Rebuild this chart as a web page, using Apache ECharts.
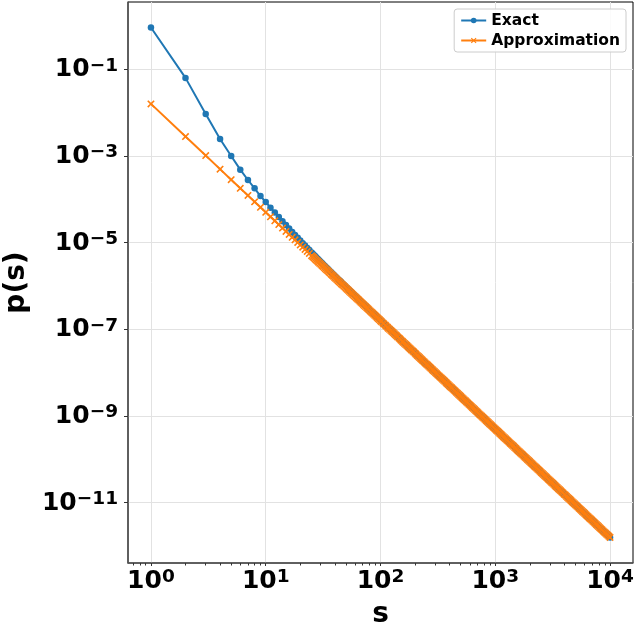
<!DOCTYPE html>
<html>
<head>
<meta charset="utf-8">
<style>
  html, body { margin: 0; padding: 0; background: #fff; }
  #chart { width: 636px; height: 629px; }
</style>
<script src="https://cdn.jsdelivr.net/npm/echarts@6/dist/echarts.min.js"></script>
</head>
<body>
<div id="chart"></div>
<script>
// ---- data ----
// cluster size s (integers up to 24, then sampled densely along the log axis)
const sValues = [
  1, 2, 3, 4, 5, 6, 7, 8, 9, 10, 11, 12, 13, 14, 15, 16, 17, 18, 19, 20, 21, 22, 23, 24,
  25.1, 25.7, 26.3, 26.9, 27.5, 28.2, 28.8, 29.5, 30.2, 30.9, 31.6, 32.4, 33.1, 33.9, 34.7,
  35.5, 36.3, 37.2, 38.0, 38.9, 39.8, 40.7, 41.7, 42.7, 43.7, 44.7, 45.7, 46.8, 47.9, 49.0,
  50.1, 51.3, 52.5, 53.7, 55.0, 56.2, 57.5, 58.9, 60.3, 61.7, 63.1, 64.6, 66.1, 67.6, 69.2,
  70.8, 72.4, 74.1, 75.9, 77.6, 79.4, 81.3, 83.2, 85.1, 87.1, 89.1, 91.2, 93.3, 95.5, 97.7,
  100, 102, 105, 107, 110, 112, 115, 117, 120, 123, 126, 129, 132, 135, 138, 141, 145, 148,
  151, 155, 158, 162, 166, 170, 174, 178, 182, 186, 191, 195, 200, 204, 209, 214, 219, 224,
  229, 234, 240, 245, 251, 257, 263, 269, 275, 282, 288, 295, 302, 309, 316, 324, 331, 339,
  347, 355, 363, 372, 380, 389, 398, 407, 417, 427, 437, 447, 457, 468, 479, 490, 501, 513,
  525, 537, 550, 562, 575, 589, 603, 617, 631, 646, 661, 676, 692, 708, 724, 741, 759, 776,
  794, 813, 832, 851, 871, 891, 912, 933, 955, 977,
  1000, 1023, 1047, 1072, 1096, 1122, 1148, 1175, 1202, 1230, 1259, 1288, 1318, 1349, 1380,
  1413, 1445, 1479, 1514, 1549, 1585, 1622, 1660, 1698, 1738, 1778, 1820, 1862, 1905, 1950,
  1995, 2042, 2089, 2138, 2188, 2239, 2291, 2344, 2399, 2455, 2512, 2570, 2630, 2692, 2754,
  2818, 2884, 2951, 3020, 3090, 3162, 3236, 3311, 3388, 3467, 3548, 3631, 3715, 3802, 3890,
  3981, 4074, 4169, 4266, 4365, 4467, 4571, 4677, 4786, 4898, 5012, 5129, 5248, 5370, 5495,
  5623, 5754, 5888, 6026, 6166, 6310, 6457, 6607, 6761, 6918, 7079, 7244, 7413, 7586, 7762,
  7943, 8128, 8318, 8511, 8710, 8913, 9120, 9333, 9550, 9772, 10000
];

// Exact p(s) up to s ~ 158 (where it separates from the approximation)
const exactHead = [
  0.92, 0.0633, 0.0093, 2.47e-3, 1.00e-3, 4.83e-4, 2.79e-4, 1.79e-4, 1.19e-4, 8.67e-5,
  6.40e-5, 4.98e-5, 3.90e-5, 3.11e-5, 2.54e-5, 2.11e-5, 1.77e-5, 1.50e-5, 1.29e-5, 1.12e-5,
  9.73e-6, 8.55e-6, 7.56e-6, 6.73e-6,
  5.92e-6, 5.56e-6, 5.22e-6, 4.90e-6, 4.61e-6, 4.33e-6, 4.07e-6, 3.83e-6, 3.60e-6, 3.38e-6,
  3.18e-6, 2.99e-6, 2.81e-6, 2.64e-6, 2.49e-6, 2.34e-6, 2.20e-6, 2.07e-6, 1.95e-6, 1.84e-6,
  1.73e-6, 1.63e-6, 1.53e-6, 1.44e-6, 1.36e-6, 1.28e-6, 1.20e-6, 1.13e-6, 1.07e-6, 1.01e-6,
  9.49e-7, 8.94e-7, 8.42e-7, 7.93e-7, 7.48e-7, 7.04e-7, 6.64e-7, 6.26e-7, 5.90e-7, 5.56e-7,
  5.24e-7, 4.94e-7, 4.66e-7, 4.39e-7, 4.14e-7, 3.90e-7, 3.68e-7, 3.47e-7, 3.27e-7, 3.08e-7,
  2.91e-7, 2.74e-7, 2.59e-7, 2.44e-7, 2.30e-7, 2.17e-7, 2.05e-7, 1.93e-7, 1.82e-7, 1.72e-7,
  1.62e-7, 1.53e-7, 1.44e-7, 1.36e-7, 1.28e-7, 1.21e-7, 1.14e-7, 1.08e-7, 1.02e-7,
  9.60e-8, 9.06e-8, 8.55e-8, 8.06e-8, 7.61e-8, 7.18e-8, 6.77e-8, 6.39e-8, 6.03e-8, 5.69e-8,
  5.37e-8, 5.07e-8
];

// Approximation p(s) over the same range
const approxHead = [
  1.59e-2, 2.81e-3, 1.02e-3, 4.97e-4, 2.84e-4, 1.80e-4, 1.23e-4, 8.78e-5, 6.54e-5, 5.03e-5,
  3.96e-5, 3.19e-5, 2.61e-5, 2.17e-5, 1.82e-5, 1.55e-5, 1.33e-5, 1.16e-5, 1.01e-5, 8.89e-6,
  7.87e-6, 7.00e-6, 6.27e-6, 5.63e-6,
  5.01e-6, 4.73e-6, 4.47e-6, 4.22e-6, 3.98e-6, 3.76e-6, 3.55e-6, 3.35e-6, 3.16e-6, 2.99e-6,
  2.82e-6, 2.66e-6, 2.51e-6, 2.37e-6, 2.24e-6, 2.11e-6, 2.00e-6, 1.88e-6, 1.78e-6, 1.68e-6,
  1.58e-6, 1.50e-6, 1.41e-6, 1.33e-6, 1.26e-6, 1.19e-6, 1.12e-6, 1.06e-6, 1.00e-6, 9.44e-7,
  8.91e-7, 8.41e-7, 7.94e-7, 7.50e-7, 7.08e-7, 6.68e-7, 6.31e-7, 5.96e-7, 5.62e-7, 5.31e-7,
  5.01e-7, 4.73e-7, 4.47e-7, 4.22e-7, 3.98e-7, 3.76e-7, 3.55e-7, 3.35e-7, 3.16e-7, 2.99e-7,
  2.82e-7, 2.66e-7, 2.51e-7, 2.37e-7, 2.24e-7, 2.11e-7, 2.00e-7, 1.88e-7, 1.78e-7, 1.68e-7,
  1.58e-7, 1.50e-7, 1.41e-7, 1.33e-7, 1.26e-7, 1.19e-7, 1.12e-7, 1.06e-7, 1.00e-7,
  9.44e-8, 8.91e-8, 8.41e-8, 7.94e-8, 7.50e-8, 7.08e-8, 6.68e-8, 6.31e-8, 5.96e-8, 5.62e-8,
  5.31e-8, 5.01e-8
];

// Beyond s ~ 160 both curves lie on the same line (within reading precision)
const sharedTail = [
  4.73e-8, 4.47e-8, 4.22e-8, 3.98e-8, 3.76e-8, 3.55e-8, 3.35e-8, 3.16e-8, 2.99e-8, 2.82e-8,
  2.66e-8, 2.51e-8, 2.37e-8, 2.24e-8, 2.11e-8, 2.00e-8, 1.88e-8, 1.78e-8, 1.68e-8, 1.58e-8,
  1.50e-8, 1.41e-8, 1.33e-8, 1.26e-8, 1.19e-8, 1.12e-8, 1.06e-8, 1.00e-8,
  9.44e-9, 8.91e-9, 8.41e-9, 7.94e-9, 7.50e-9, 7.08e-9, 6.68e-9, 6.31e-9, 5.96e-9, 5.62e-9,
  5.31e-9, 5.01e-9, 4.73e-9, 4.47e-9, 4.22e-9, 3.98e-9, 3.76e-9, 3.55e-9, 3.35e-9, 3.16e-9,
  2.99e-9, 2.82e-9, 2.66e-9, 2.51e-9, 2.37e-9, 2.24e-9, 2.11e-9, 2.00e-9, 1.88e-9, 1.78e-9,
  1.68e-9, 1.58e-9, 1.50e-9, 1.41e-9, 1.33e-9, 1.26e-9, 1.19e-9, 1.12e-9, 1.06e-9, 1.00e-9,
  9.44e-10, 8.91e-10, 8.41e-10, 7.94e-10, 7.50e-10, 7.08e-10, 6.68e-10, 6.31e-10, 5.96e-10, 5.62e-10,
  5.31e-10, 5.01e-10, 4.73e-10, 4.47e-10, 4.22e-10, 3.98e-10, 3.76e-10, 3.55e-10, 3.35e-10, 3.16e-10,
  2.99e-10, 2.82e-10, 2.66e-10, 2.51e-10, 2.37e-10, 2.24e-10, 2.11e-10, 2.00e-10, 1.88e-10, 1.78e-10,
  1.68e-10, 1.58e-10, 1.50e-10, 1.41e-10, 1.33e-10, 1.26e-10, 1.19e-10, 1.12e-10, 1.06e-10, 1.00e-10,
  9.44e-11, 8.91e-11, 8.41e-11, 7.94e-11, 7.50e-11, 7.08e-11, 6.68e-11, 6.31e-11, 5.96e-11, 5.62e-11,
  5.31e-11, 5.01e-11, 4.73e-11, 4.47e-11, 4.22e-11, 3.98e-11, 3.76e-11, 3.55e-11, 3.35e-11, 3.16e-11,
  2.99e-11, 2.82e-11, 2.66e-11, 2.51e-11, 2.37e-11, 2.24e-11, 2.11e-11, 2.00e-11, 1.88e-11, 1.78e-11,
  1.68e-11, 1.58e-11, 1.50e-11, 1.41e-11, 1.33e-11, 1.26e-11, 1.19e-11, 1.12e-11, 1.06e-11, 1.00e-11,
  9.44e-12, 8.91e-12, 8.41e-12, 7.94e-12, 7.50e-12, 7.08e-12, 6.68e-12, 6.31e-12, 5.96e-12, 5.62e-12,
  5.31e-12, 5.01e-12, 4.73e-12, 4.47e-12, 4.22e-12, 3.98e-12, 3.76e-12, 3.55e-12, 3.35e-12, 3.16e-12,
  2.99e-12, 2.82e-12, 2.66e-12, 2.51e-12, 2.37e-12, 2.24e-12, 2.11e-12, 2.00e-12, 1.88e-12, 1.78e-12,
  1.68e-12, 1.58e-12
];

const exactP = exactHead.concat(sharedTail);
const approxP = approxHead.concat(sharedTail);

const seriesNames = ['Exact', 'Approximation'];
const xTickValues = [1, 10, 100, 1000, 10000];
const xMinorTickValues = [
  0.7, 0.8, 0.9,
  2, 3, 4, 5, 6, 7, 8, 9,
  20, 30, 40, 50, 60, 70, 80, 90,
  200, 300, 400, 500, 600, 700, 800, 900,
  2000, 3000, 4000, 5000, 6000, 7000, 8000, 9000
];
const yTickValues = [1e-11, 1e-9, 1e-7, 1e-5, 1e-3, 1e-1];
const xLabelName = 's';
const yLabelName = 'p(s)';

// ---- chart ----
if (sValues.length !== exactP.length || sValues.length !== approxP.length) {
  console.error('length mismatch', sValues.length, exactP.length, approxP.length);
}

const FONT = 'DejaVu Sans';
const xMin = Math.pow(10, -0.2), xMax = Math.pow(10, 4.2);
const yMin = Math.pow(10, -12.39), yMax = Math.pow(10, 0.552);

function powLabel(v) {
  const e = Math.round(Math.log10(v));
  const es = e < 0 ? '\u2212' + (-e) : String(e);
  return '{b|10}{e|' + es + '}';
}
const richLabel = {
  b: { fontFamily: FONT, fontWeight: 'bold', fontSize: 25, lineHeight: 26, color: '#000', verticalAlign: 'bottom' },
  e: { fontFamily: FONT, fontWeight: 'bold', fontSize: 18.5, lineHeight: 16, color: '#000', verticalAlign: 'top' }
};

const crossPath = 'path://M1.5,0L5,3.5L8.5,0L10,1.5L6.5,5L10,8.5L8.5,10L5,6.5L1.5,10L0,8.5L3.5,5L0,1.5Z';

const chart = echarts.init(document.getElementById('chart'), null, { renderer: 'canvas' });
chart.setOption({
  animation: false,
  backgroundColor: '#fff',
  grid: {
    left: 128, right: 3, top: 2, bottom: 66,
    outerBoundsMode: 'none', containLabel: false,
    show: true, borderColor: '#000', borderWidth: 1, backgroundColor: 'transparent'
  },
  legend: {
    data: seriesNames,
    orient: 'vertical',
    right: 10, top: 9,
    itemWidth: 25, itemHeight: 7, itemGap: 3,
    padding: [3, 6, 3, 6],
    backgroundColor: 'rgba(255,255,255,0.85)',
    borderColor: '#cccccc', borderWidth: 1, borderRadius: 3,
    textStyle: { fontFamily: FONT, fontWeight: 'bold', fontSize: 15.5, color: '#000', lineHeight: 17 }
  },
  xAxis: [{
    type: 'log', logBase: 10, min: xMin, max: xMax,
    name: xLabelName, nameLocation: 'middle', nameGap: 38,
    nameTextStyle: { fontFamily: FONT, fontWeight: 'bold', fontSize: 28, color: '#000' },
    axisLine: { show: true, lineStyle: { color: '#555', width: 1.5 } },
    axisTick: { show: true, inside: false, length: 3, customValues: xTickValues, lineStyle: { color: '#333', width: 1 } },
    minorTick: { show: false },
    axisLabel: { customValues: xTickValues, margin: 5, formatter: powLabel, rich: richLabel },
    splitLine: { show: true, lineStyle: { color: '#e2e2e2', width: 1 } }
  }, {
    type: 'log', logBase: 10, min: xMin, max: xMax, position: 'bottom',
    axisLine: { show: false },
    axisTick: { show: true, inside: false, length: 2.5, customValues: xMinorTickValues, lineStyle: { color: '#333', width: 1 } },
    axisLabel: { show: false },
    splitLine: { show: false }
  }],
  yAxis: {
    type: 'log', logBase: 10, min: yMin, max: yMax,
    name: yLabelName, nameLocation: 'middle', nameGap: 89, nameRotate: 90,
    nameTextStyle: { fontFamily: FONT, fontWeight: 'bold', fontSize: 28, color: '#000' },
    axisLine: { show: true, lineStyle: { color: '#555', width: 1.5 } },
    axisTick: { show: true, inside: false, length: 4, customValues: yTickValues, lineStyle: { color: '#333', width: 1 } },
    axisLabel: { customValues: yTickValues, margin: 10, formatter: powLabel, rich: richLabel },
    splitLine: { show: true, lineStyle: { color: '#e2e2e2', width: 1 } }
  },
  series: [{
    name: seriesNames[0],
    type: 'line',
    data: sValues.map((s, i) => [s, exactP[i]]),
    symbol: 'circle', symbolSize: 6.5, showAllSymbol: true,
    lineStyle: { color: '#1f77b4', width: 2 },
    itemStyle: { color: '#1f77b4' },
    emphasis: { disabled: true }
  }, {
    name: seriesNames[1],
    type: 'line',
    data: sValues.map((s, i) => [s, approxP[i]]),
    symbol: crossPath, symbolSize: 7.5, showAllSymbol: true,
    lineStyle: { color: '#ff7f0e', width: 2 },
    itemStyle: { color: '#ff7f0e' },
    emphasis: { disabled: true }
  }]
});
</script>
</body>
</html>
